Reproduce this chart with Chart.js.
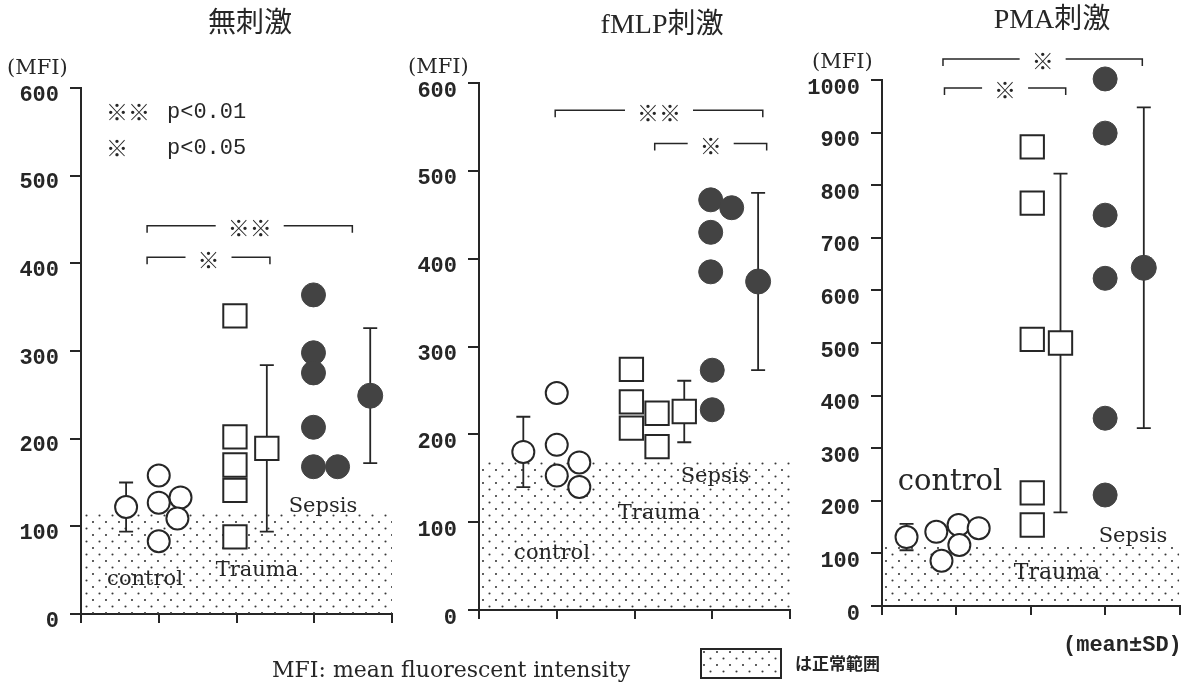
<!DOCTYPE html>
<html>
<head>
<meta charset="utf-8">
<script src="https://cdn.jsdelivr.net/npm/chart.js@4.4.1/dist/chart.umd.min.js"></script>
<style>
  html, body { margin: 0; padding: 0; background: #fff; }
  #wrap { position: relative; width: 1198px; height: 693px; overflow: hidden; background: #fff; }
  #wrap canvas { position: absolute; left: 0; top: 0; }
</style>
</head>
<body>
<div id="wrap">
  <canvas id="c1" width="1198" height="693"></canvas>
  <canvas id="c2" width="1198" height="693"></canvas>
  <canvas id="c3" width="1198" height="693"></canvas>
</div>
<script>
// ---------- data ----------
const groups = ['control', 'Trauma', 'Sepsis'];
const panelTitles = ['無刺激', 'fMLP刺激', 'PMA刺激'];
const xTicks = [0, 1, 2, 3, 4];

// 無刺激
const noStimYTicks = [0, 100, 200, 300, 400, 500, 600];
const noStimControlX = [1.0, 1.0, 1.28, 1.24, 1.0];
const noStimControlY = [158, 127, 133, 109, 83];
const noStimTraumaX = [1.98, 1.98, 1.98, 1.98, 1.98];
const noStimTraumaY = [340, 202, 170, 141, 88];
const noStimSepsisX = [2.99, 2.99, 2.99, 2.99, 2.99, 3.3];
const noStimSepsisY = [364, 298, 275, 213, 168, 168];
const noStimMeanX = [0.58, 2.39, 3.72];
const noStimMean = [122, 189, 249];
const noStimSD = [28, 95, 77];
const noStimNormalTop = 115;
const noStimSigFrom = [0.85, 0.85];
const noStimSigTo = [3.49, 2.43];
const noStimSigY = [443, 407];
const noStimSigMark = ['※※', '※'];

// fMLP刺激
const fmlpYTicks = [0, 100, 200, 300, 400, 500, 600];
const fmlpControlX = [1.0, 1.0, 1.29, 1.0, 1.29];
const fmlpControlY = [247, 188, 168, 153, 140];
const fmlpTraumaX = [1.96, 1.96, 1.96, 2.29, 2.29];
const fmlpTraumaY = [274, 237, 207, 224, 186];
const fmlpSepsisX = [3.0, 3.0, 2.98, 2.98, 2.98, 3.25];
const fmlpSepsisY = [273, 228, 467, 430, 385, 458];
const fmlpMeanX = [0.57, 2.64, 3.59];
const fmlpMean = [180, 226, 374];
const fmlpSD = [40, 35, 101];
const fmlpNormalTop = 173;
const fmlpSigFrom = [0.98, 2.26];
const fmlpSigTo = [3.65, 3.70];
const fmlpSigY = [569, 531];
const fmlpSigMark = ['※※', '※'];

// PMA刺激
const pmaYTicks = [0, 100, 200, 300, 400, 500, 600, 700, 800, 900, 1000];
const pmaControlX = [0.73, 1.03, 1.30, 1.04, 0.80];
const pmaControlY = [141, 154, 148, 116, 86];
const pmaTraumaX = [2.02, 2.02, 2.02, 2.02, 2.02];
const pmaTraumaY = [873, 766, 507, 215, 154];
const pmaSepsisX = [3.0, 3.0, 3.0, 3.0, 3.0, 3.0];
const pmaSepsisY = [1002, 899, 743, 623, 357, 211];
const pmaMeanX = [0.33, 2.4, 3.52];
const pmaMean = [131, 500, 643];
const pmaSD = [25, 322, 305];
const pmaNormalTop = 112;
const pmaSigFrom = [0.82, 0.84];
const pmaSigTo = [3.5, 2.47];
const pmaSigY = [1040, 985];
const pmaSigMark = ['※', '※'];

const sigLegend = [['※※', 'p<0.01'], ['※', 'p<0.05']];
const footNote = 'MFI: mean fluorescent intensity';
const normalNote = 'は正常範囲';
const meanNote = '(mean±SD)';
const unitLabel = '(MFI)';

// ---------- styles ----------
const INK = '#262626';
const DARK = '#434343';
const SERIF = '"DejaVu Serif", serif';
const MONO = '"Liberation Mono", monospace';
const CJK = '"Noto Sans CJK JP", sans-serif';
const TITLE_FONT = '28px "Liberation Serif", "Noto Sans CJK JP", serif';
const LABEL_FONT = '21px ' + SERIF;

function dotPattern(ctx) {
  const c = document.createElement('canvas');
  c.width = 13; c.height = 13;
  const g = c.getContext('2d');
  g.fillStyle = '#383838';
  [[2, 2], [8.5, 8.5]].forEach(([a, b]) => {
    g.beginPath(); g.arc(a, b, 1.05, 0, Math.PI * 2); g.fill();
  });
  return ctx.createPattern(c, 'repeat');
}

function drawText(ctx, t) {
  ctx.save();
  ctx.font = t.font;
  ctx.fillStyle = INK;
  ctx.textAlign = t.align || 'center';
  ctx.textBaseline = t.base || 'alphabetic';
  ctx.fillText(t.text, t.x, t.y);
  ctx.restore();
}

function buildPanel(canvasId, p) {
  const ctx = document.getElementById(canvasId).getContext('2d');
  const dots = dotPattern(ctx);
  const pts = (xs, ys) => ys.map((v, i) => ({ x: xs[i], y: v }));
  const MEAN_INDEX = 4;

  const decor = {
    id: 'decor_' + canvasId,
    // mean ± SD whiskers, drawn just beneath the mean markers
    beforeDatasetDraw(chart, args) {
      if (args.index !== MEAN_INDEX) return;
      const { ctx, scales: { x, y } } = chart;
      ctx.save();
      ctx.strokeStyle = INK;
      ctx.lineWidth = 1.8;
      p.meanX.forEach((mx, i) => {
        const px = x.getPixelForValue(mx);
        const top = y.getPixelForValue(p.mean[i] + p.sd[i]);
        const bot = y.getPixelForValue(p.mean[i] - p.sd[i]);
        ctx.beginPath();
        ctx.moveTo(px, top); ctx.lineTo(px, bot);
        ctx.moveTo(px - 7, top); ctx.lineTo(px + 7, top);
        ctx.moveTo(px - 7, bot); ctx.lineTo(px + 7, bot);
        ctx.stroke();
      });
      ctx.restore();
    },
    // significance brackets
    afterDatasetsDraw(chart) {
      const { ctx, scales: { x, y } } = chart;
      ctx.save();
      ctx.strokeStyle = INK;
      ctx.fillStyle = INK;
      ctx.lineWidth = 1.5;
      ctx.font = '22px ' + CJK;
      ctx.textAlign = 'center';
      ctx.textBaseline = 'middle';
      p.sigFrom.forEach((x1, i) => {
        const a = x.getPixelForValue(x1);
        const b = x.getPixelForValue(p.sigTo[i]);
        const yy = y.getPixelForValue(p.sigY[i]);
        const mid = (a + b) / 2;
        const gap = ctx.measureText(p.sigMark[i]).width / 2 + 12;
        ctx.beginPath();
        ctx.moveTo(a, yy + 7); ctx.lineTo(a, yy); ctx.lineTo(mid - gap, yy);
        ctx.moveTo(mid + gap, yy); ctx.lineTo(b, yy); ctx.lineTo(b, yy + 7);
        ctx.stroke();
        ctx.fillText(p.sigMark[i], mid, yy + 2);
      });
      ctx.restore();
    },
    afterDraw(chart) {
      p.texts.forEach(t => drawText(chart.ctx, t));
      if (p.extra) p.extra(chart.ctx, dots);
    }
  };

  return new Chart(ctx, {
    type: 'scatter',
    data: {
      datasets: [
        {
          type: 'line', label: 'normal range',
          data: [{ x: xTicks[0], y: p.normalTop }, { x: xTicks[xTicks.length - 1], y: p.normalTop }],
          fill: 'origin', backgroundColor: dots, borderWidth: 0, borderColor: 'rgba(0,0,0,0)',
          pointRadius: 0, order: 10
        },
        {
          label: groups[0], data: pts(p.controlX, p.controlY),
          pointStyle: 'circle', pointRadius: 11, borderWidth: 2,
          borderColor: INK, backgroundColor: '#fff', order: 3, clip: false
        },
        {
          label: groups[1], data: pts(p.traumaX, p.traumaY),
          pointStyle: 'rect', pointRadius: 16.5, borderWidth: 2,
          borderColor: INK, backgroundColor: '#fff', order: 3, clip: false
        },
        {
          label: groups[2], data: pts(p.sepsisX, p.sepsisY),
          pointStyle: 'circle', pointRadius: 12, borderWidth: 1,
          borderColor: DARK, backgroundColor: DARK, order: 3, clip: false
        },
        {
          label: 'mean', data: pts(p.meanX, p.mean),
          pointStyle: ['circle', 'rect', 'circle'], pointRadius: [11, 16.5, 12.5],
          borderWidth: [2, 2, 1], borderColor: [INK, INK, DARK],
          backgroundColor: ['#fff', '#fff', DARK], order: 0, clip: false
        }
      ]
    },
    options: {
      responsive: false,
      animation: false,
      events: [],
      layout: { padding: { left: p.area.left - 80, right: 1198 - p.area.right, top: p.area.top, bottom: 0 } },
      plugins: { legend: { display: false }, tooltip: { enabled: false } },
      scales: {
        x: {
          type: 'linear', min: xTicks[0], max: xTicks[xTicks.length - 1],
          afterBuildTicks: s => { s.ticks = xTicks.map(v => ({ value: v })); },
          afterFit: s => { s.height = 693 - p.area.bottom; },
          ticks: { display: false },
          grid: { drawOnChartArea: false, drawTicks: true, tickLength: 9, color: INK, lineWidth: 2 },
          border: { display: true, color: INK, width: 2 }
        },
        y: {
          type: 'linear', min: p.yTicks[0], max: p.yTicks[p.yTicks.length - 1],
          afterBuildTicks: s => { s.ticks = p.yTicks.map(v => ({ value: v })); },
          afterFit: s => { s.width = 80; },
          ticks: {
            callback: v => String(v),
            font: { family: '"Liberation Mono", monospace', size: 22, weight: 'bold' },
            color: INK, padding: 11, labelOffset: p.labelOffset
          },
          grid: { drawOnChartArea: false, drawTicks: true, tickLength: 11, color: INK, lineWidth: 2 },
          border: { display: true, color: INK, width: 2 }
        }
      }
    },
    plugins: [decor]
  });
}

// ---------- panels ----------
buildPanel('c1', {
  area: { left: 81, right: 392, top: 88, bottom: 614 }, labelOffset: 7,
  yTicks: noStimYTicks,
  controlX: noStimControlX, controlY: noStimControlY,
  traumaX: noStimTraumaX, traumaY: noStimTraumaY,
  sepsisX: noStimSepsisX, sepsisY: noStimSepsisY,
  meanX: noStimMeanX, mean: noStimMean, sd: noStimSD,
  normalTop: noStimNormalTop,
  sigFrom: noStimSigFrom, sigTo: noStimSigTo, sigY: noStimSigY, sigMark: noStimSigMark,
  texts: [
    { text: panelTitles[0], x: 250, y: 25, font: TITLE_FONT, base: 'middle' },
    { text: unitLabel, x: 7, y: 69, font: '21px ' + SERIF, align: 'left', base: 'middle' },
    { text: groups[0], x: 145, y: 585, font: LABEL_FONT },
    { text: groups[1], x: 257, y: 576, font: LABEL_FONT },
    { text: groups[2], x: 323, y: 512, font: LABEL_FONT },
    { text: sigLegend[0][0], x: 106, y: 112, font: '22px ' + CJK, align: 'left', base: 'middle' },
    { text: sigLegend[0][1], x: 167, y: 112, font: '22px ' + MONO, align: 'left', base: 'middle' },
    { text: sigLegend[1][0], x: 106, y: 148, font: '22px ' + CJK, align: 'left', base: 'middle' },
    { text: sigLegend[1][1], x: 167, y: 148, font: '22px ' + MONO, align: 'left', base: 'middle' },
    { text: footNote, x: 272, y: 677, font: '22px ' + SERIF, align: 'left' }
  ]
});

buildPanel('c2', {
  area: { left: 479, right: 790, top: 83, bottom: 610 }, labelOffset: 8,
  yTicks: fmlpYTicks,
  controlX: fmlpControlX, controlY: fmlpControlY,
  traumaX: fmlpTraumaX, traumaY: fmlpTraumaY,
  sepsisX: fmlpSepsisX, sepsisY: fmlpSepsisY,
  meanX: fmlpMeanX, mean: fmlpMean, sd: fmlpSD,
  normalTop: fmlpNormalTop,
  sigFrom: fmlpSigFrom, sigTo: fmlpSigTo, sigY: fmlpSigY, sigMark: fmlpSigMark,
  texts: [
    { text: panelTitles[1], x: 662, y: 26, font: TITLE_FONT, base: 'middle' },
    { text: unitLabel, x: 408, y: 68, font: '21px ' + SERIF, align: 'left', base: 'middle' },
    { text: groups[0], x: 552, y: 559, font: LABEL_FONT },
    { text: groups[1], x: 659, y: 519, font: LABEL_FONT },
    { text: groups[2], x: 715, y: 482, font: LABEL_FONT },
    { text: normalNote, x: 795, y: 664, font: 'bold 17px ' + CJK, align: 'left', base: 'middle' }
  ],
  // legend swatch for the shaded normal range
  extra(ctx, dots) {
    ctx.save();
    ctx.fillStyle = '#fff';
    ctx.fillRect(700, 648, 81, 30);
    ctx.fillStyle = dots;
    ctx.fillRect(700, 648, 81, 30);
    ctx.strokeStyle = INK;
    ctx.lineWidth = 2;
    ctx.strokeRect(701, 649, 80, 29);
    ctx.restore();
  }
});

buildPanel('c3', {
  area: { left: 882, right: 1193, top: 80, bottom: 606 }, labelOffset: 8,
  yTicks: pmaYTicks,
  controlX: pmaControlX, controlY: pmaControlY,
  traumaX: pmaTraumaX, traumaY: pmaTraumaY,
  sepsisX: pmaSepsisX, sepsisY: pmaSepsisY,
  meanX: pmaMeanX, mean: pmaMean, sd: pmaSD,
  normalTop: pmaNormalTop,
  sigFrom: pmaSigFrom, sigTo: pmaSigTo, sigY: pmaSigY, sigMark: pmaSigMark,
  texts: [
    { text: panelTitles[2], x: 1052, y: 21, font: TITLE_FONT, base: 'middle' },
    { text: unitLabel, x: 812, y: 63, font: '21px ' + SERIF, align: 'left', base: 'middle' },
    { text: groups[0], x: 950, y: 490, font: '29px ' + SERIF },
    { text: groups[2], x: 1133, y: 542, font: LABEL_FONT },
    { text: groups[1], x: 1057, y: 579, font: '22px ' + SERIF },
    { text: meanNote, x: 1063, y: 645, font: 'bold 22px ' + MONO, align: 'left', base: 'middle' }
  ]
});
</script>
</body>
</html>
